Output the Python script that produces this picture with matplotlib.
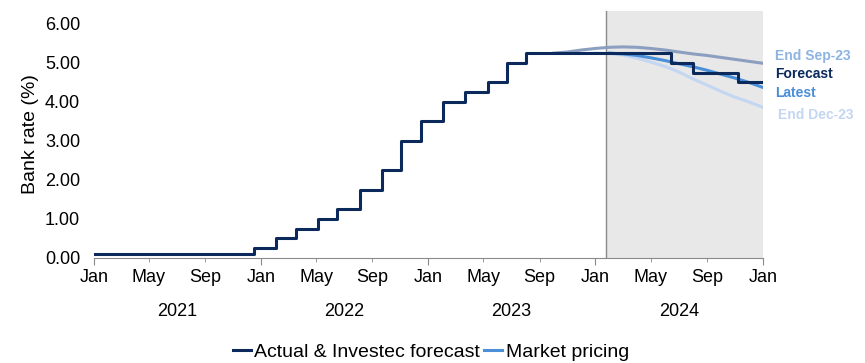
import numpy as np
import matplotlib.pyplot as plt
import matplotlib.dates as mdates
from matplotlib.transforms import blended_transform_factory
from datetime import datetime

plt.rcParams['font.family'] = ['Liberation Sans', 'DejaVu Sans']

# Bank rate: actual + Investec forecast (change dates)
rate_dates = ['2021-01-01', '2021-12-16', '2022-02-03', '2022-03-17', '2022-05-05',
              '2022-06-16', '2022-08-04', '2022-09-22', '2022-11-03', '2022-12-15',
              '2023-02-02', '2023-03-23', '2023-05-11', '2023-06-22', '2023-08-03',
              '2024-06-15', '2024-08-01', '2024-11-07', '2025-01-01']
rates = [0.10, 0.25, 0.50, 0.75, 1.00, 1.25, 1.75, 2.25, 3.00, 3.50,
         4.00, 4.25, 4.50, 5.00, 5.25, 5.00, 4.75, 4.50, 4.50]

# Market pricing curves (monthly)
sep23_months = ['2023-10', '2023-11', '2023-12', '2024-01', '2024-02', '2024-03', '2024-04',
                '2024-05', '2024-06', '2024-07', '2024-08', '2024-09', '2024-10', '2024-11',
                '2024-12', '2025-01']
sep23 = [5.25, 5.28, 5.33, 5.37, 5.40, 5.41, 5.40, 5.37, 5.33, 5.28, 5.23, 5.19, 5.14, 5.09,
         5.04, 4.99]

dec23_months = ['2024-01', '2024-02', '2024-03', '2024-04', '2024-05', '2024-06', '2024-07',
                '2024-08', '2024-09', '2024-10', '2024-11', '2024-12', '2025-01']
dec23 = [5.25, 5.24, 5.20, 5.12, 5.02, 4.91, 4.77, 4.59, 4.43, 4.27, 4.12, 4.00, 3.86]

latest_months = ['2024-02', '2024-03', '2024-04', '2024-05', '2024-06', '2024-07', '2024-08',
                 '2024-09', '2024-10', '2024-11', '2024-12', '2025-01']
latest = [5.25, 5.23, 5.19, 5.13, 5.06, 4.98, 4.90, 4.81, 4.71, 4.61, 4.50, 4.37]

forecast_start = datetime(2024, 1, 25)

navy = '#0b2a5b'
c_latest = '#4a8fd8'
c_sep = '#8c9fc0'
c_dec = '#c3d6f2'

def to_dates(lst, fmt):
    return [datetime.strptime(s, fmt) for s in lst]

fig = plt.figure(figsize=(8.65, 3.63), dpi=100)
ax = fig.add_axes([0.1087, 0.2893, 0.7734, 0.6804])

ax.axvspan(forecast_start, datetime(2025, 1, 1), color='#e8e8e8', zorder=0, lw=0)
ax.axvline(forecast_start, color='#8a8a8a', lw=1, zorder=1)

ax.plot(to_dates(sep23_months, '%Y-%m'), sep23, color=c_sep, lw=2.2, zorder=2)
ax.plot(to_dates(dec23_months, '%Y-%m'), dec23, color=c_dec, lw=2.2, zorder=2)
ax.plot(to_dates(latest_months, '%Y-%m'), latest, color=c_latest, lw=2.2, zorder=3,
        label='Market pricing')
ax.step(to_dates(rate_dates, '%Y-%m-%d'), rates, where='post', color=navy, lw=2.2, zorder=4,
        label='Actual & Investec forecast')

ax.set_xlim(datetime(2021, 1, 1), datetime(2025, 1, 1))
ax.set_ylim(0, 6.33)
ax.set_yticks(np.arange(0, 7, 1))
ax.set_yticklabels([f'{v:.2f}' for v in np.arange(0, 7, 1)], fontsize=13)
ax.tick_params(axis='y', length=0, pad=10)
ax.set_ylabel('Bank rate (%)', fontsize=14, labelpad=4)

ax.xaxis.set_major_locator(mdates.MonthLocator(bymonth=[1]))
ax.xaxis.set_minor_locator(mdates.MonthLocator(bymonth=[5, 9]))
ax.xaxis.set_major_formatter(mdates.DateFormatter('%b'))
ax.xaxis.set_minor_formatter(mdates.DateFormatter('%b'))
ax.tick_params(axis='x', which='major', length=5, color='#8a8a8a', labelsize=13, pad=3)
ax.tick_params(axis='x', which='minor', length=3, color='#8a8a8a', labelsize=13, pad=5)

for s in ['top', 'right', 'left']:
    ax.spines[s].set_visible(False)
ax.spines['bottom'].set_color('#8a8a8a')

trans = blended_transform_factory(ax.transData, ax.transAxes)
for yr in [2021, 2022, 2023, 2024]:
    ax.text(datetime(yr, 7, 1), -0.215, str(yr), transform=trans, ha='center', va='center',
            fontsize=13)

# End-of-line labels
fig.text(775 / 865, 1 - 56 / 363, 'End Sep-23', color='#8db4e2', fontsize=10, fontweight='bold', va='center')
fig.text(775 / 865, 1 - 74 / 363, 'Forecast', color=navy, fontsize=10, fontweight='bold', va='center')
fig.text(775 / 865, 1 - 93 / 363, 'Latest', color=c_latest, fontsize=10, fontweight='bold', va='center')
fig.text(778 / 865, 1 - 115 / 363, 'End Dec-23', color=c_dec, fontsize=10, fontweight='bold', va='center')

handles, labels = ax.get_legend_handles_labels()
fig.legend(handles[::-1], labels[::-1], loc='center', bbox_to_anchor=(431 / 865, 1 - 352 / 363),
           ncol=2, frameon=False, fontsize=14, handlelength=0.9, handletextpad=0.2,
           columnspacing=0.2, borderaxespad=0)

fig.savefig('out.png', dpi=100)
